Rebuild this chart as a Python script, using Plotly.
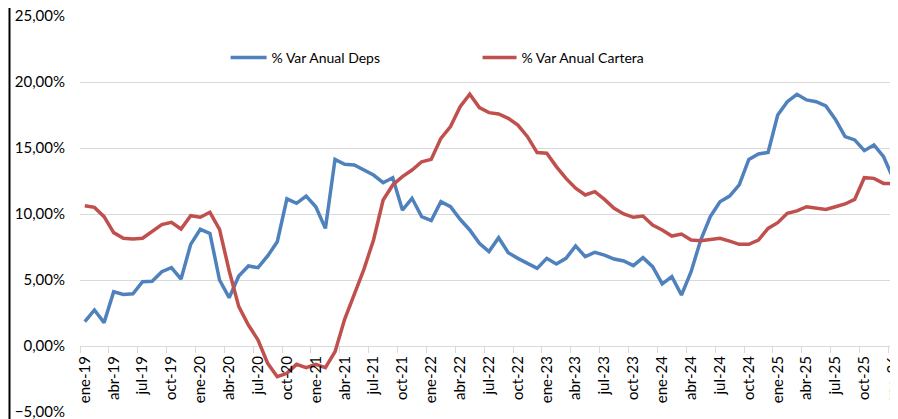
import plotly.graph_objects as go

meses = ['ene', 'feb', 'mar', 'abr', 'may', 'jun', 'jul', 'ago', 'sep', 'oct', 'nov', 'dic']
fechas = [f'{m}-{a}' for a in range(19, 26) for m in meses] + ['ene-26']

deps = [1.84, 2.73, 1.77, 4.11, 3.91, 3.95, 4.87, 4.90, 5.63, 5.93, 5.07, 7.70,
        8.84, 8.53, 5.00, 3.66, 5.30, 6.06, 5.93, 6.82, 7.90, 11.15, 10.81, 11.36,
        10.55, 8.91, 14.14, 13.76, 13.71, 13.33, 12.95, 12.37, 12.75, 10.30, 11.19, 9.80,
        9.50, 10.93, 10.55, 9.60, 8.79, 7.78, 7.15, 8.20, 7.07, 6.64, 6.26, 5.88,
        6.64, 6.21, 6.64, 7.58, 6.77, 7.10, 6.89, 6.59, 6.44, 6.09, 6.69, 6.01,
        4.70, 5.25, 3.86, 5.63, 8.03, 9.80, 10.93, 11.36, 12.20, 14.14, 14.55, 14.67,
        17.50, 18.51, 19.07, 18.64, 18.51, 18.18, 17.17, 15.86, 15.61, 14.80, 15.23, 14.34,
        12.70]

cartera = [10.63, 10.50, 9.80, 8.59, 8.16, 8.10, 8.16, 8.66, 9.20, 9.37, 8.86, 9.87,
           9.75, 10.13, 8.84, 5.70, 2.98, 1.59, 0.45, -1.31, -2.33, -2.07, -1.39, -1.64,
           -1.39, -1.64, -0.43, 2.02, 3.86, 5.81, 8.03, 11.06, 12.20, 12.83, 13.33, 13.96,
           14.14, 15.73, 16.62, 18.13, 19.07, 18.06, 17.68, 17.58, 17.25, 16.74, 15.86, 14.65,
           14.60, 13.59, 12.70, 11.95, 11.44, 11.69, 11.11, 10.43, 10.00, 9.75, 9.85, 9.17,
           8.79, 8.33, 8.48, 8.03, 7.98, 8.08, 8.16, 7.95, 7.70, 7.70, 8.03, 8.91,
           9.34, 10.05, 10.23, 10.55, 10.48, 10.35, 10.55, 10.76, 11.11, 12.75, 12.70, 12.32,
           12.32]

x = list(range(len(fechas)))
tick_pos = x[::3]
tick_txt = fechas[::3]

fig = go.Figure()
fig.add_trace(go.Scatter(
    x=x, y=[v / 100 for v in deps], mode='lines', name='% Var Anual Deps',
    line=dict(color='#4F81BD', width=3.5), legend='legend', showlegend=True
))
fig.add_trace(go.Scatter(
    x=x, y=[v / 100 for v in cartera], mode='lines', name='% Var Anual Cartera',
    line=dict(color='#C0504D', width=3.5), legend='legend2', showlegend=True
))

font = dict(family='Lato', size=15, color='#000000')
leg_font = dict(family='Lato', size=14, color='#000000')

# the page adds an 8px body margin, so the figure is 8px smaller
fig.update_layout(
    width=890,
    height=411,
    separators=',.',
    showlegend=True,
    plot_bgcolor='white',
    paper_bgcolor='white',
    margin=dict(l=72, r=0, t=8, b=7, autoexpand=False),
    font=font,
    legend=dict(orientation='h', x=0.178, y=0.894, xanchor='left', yanchor='middle',
                itemwidth=36, font=leg_font, bgcolor='rgba(0,0,0,0)'),
    legend2=dict(orientation='h', x=0.486, y=0.894, xanchor='left', yanchor='middle',
                 itemwidth=34, font=leg_font, bgcolor='rgba(0,0,0,0)'),
    xaxis=dict(
        range=[-0.5, len(fechas) - 0.5],
        anchor='free',
        position=1 / 6,
        automargin=False,
        tickmode='array',
        tickvals=tick_pos,
        ticktext=tick_txt,
        tickangle=-90,
        ticks='',
        ticklabelstandoff=6,
        ticklabeloverflow='allow',
        showgrid=False,
        showline=False,
        zeroline=False,
        tickfont=font,
        minor=dict(tickmode='linear', tick0=-0.5, dtick=3, ticks='outside',
                   ticklen=6, tickcolor='#d9d9d9', tickwidth=1, showgrid=False),
    ),
    yaxis=dict(
        range=[-0.05, 0.25],
        automargin=False,
        tickmode='linear',
        tick0=-0.05,
        dtick=0.05,
        tickformat='.2%',
        gridcolor='#d9d9d9',
        gridwidth=1.3,
        zeroline=False,
        showline=False,
        ticks='',
        ticklabelstandoff=14,
        ticklabeloverflow='allow',
        tickfont=font,
    ),
    shapes=[dict(type='line', xref='paper', yref='paper',
                 x0=-70.5 / 818, x1=-70.5 / 818, y0=-7 / 396, y1=420 / 396,
                 line=dict(color='#000000', width=2))],
)

fig.write_html('out.html')
